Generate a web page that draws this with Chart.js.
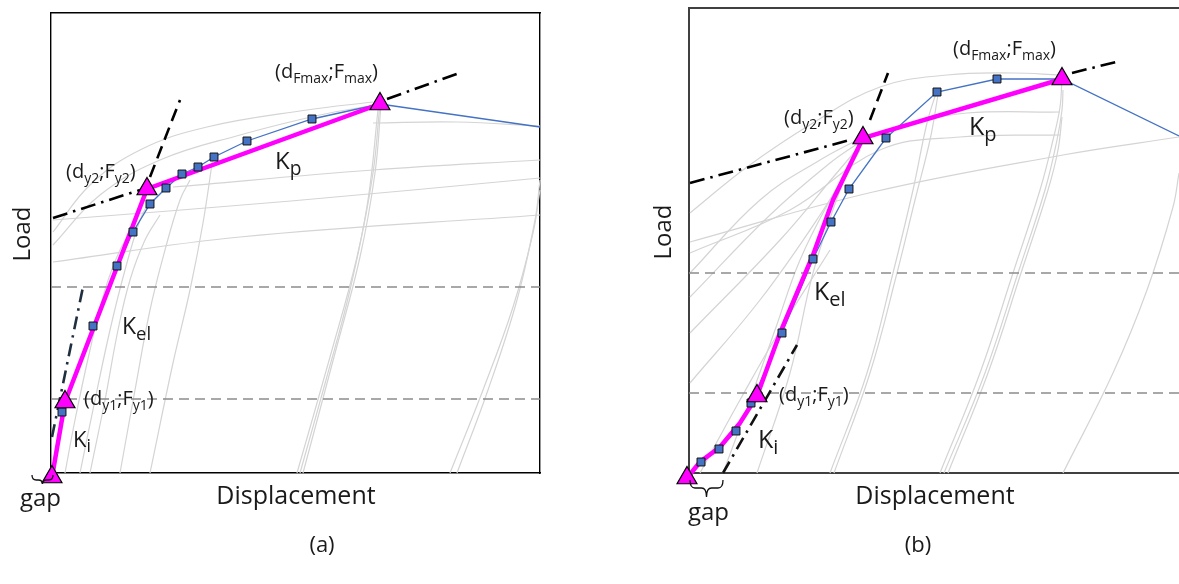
<!DOCTYPE html>
<html><head><meta charset="utf-8">
<script src="https://cdn.jsdelivr.net/npm/chart.js@4.4.1/dist/chart.umd.min.js"></script>
<style>
html,body{margin:0;padding:0;background:#fff;overflow:hidden;width:1179px;height:584px}
canvas{position:absolute;left:0;top:0}
</style></head><body>
<canvas id="ca" width="1179" height="584"></canvas>
<canvas id="cb" width="1179" height="584"></canvas>
<script>
// ================= Panel (a) data (arbitrary displacement / load units) =================
const aBilinear = [[1,-4],[14,71],[96,284],[329,369]];
const aTest = [[1,-3],[11,61],[42,147],[66,207],[82,241],[99,269],[115,285],[131,299],[147,306],[163,316],[196,332],[261,354],[329,369],[489,346]];
const aKpLeft = [[2,255],[89,283]];
const aKpRight = [[336,374],[411,401]];
const aKelTangent = [[99,296],[129,373]];
const aKiTangent = [[1,36],[32,186]];
const aLevels = [74,186];
const aLoops = [
  [[99,0],[122,110],[139,183],[152,250],[162,316]],
  [[29,0],[44,73],[59,143],[74,203],[89,253],[99,273]],
  [[69,0],[84,83],[99,163],[114,223],[129,273],[139,293]],
  [[14,0],[24,53],[39,123],[54,183],[69,223],[84,248]],
  [[39,0],[54,73],[67,143],[79,193],[94,233],[109,258]],
  [[246,0],[279,116],[306,216],[322,300],[329,370]],
  [[252,0],[283,116],[309,216],[324,300],[330,368]],
  [[249,0],[275,93],[299,183],[317,273],[327,363]],
  [[399,0],[432,83],[462,166],[482,240],[489,283]],
  [[406,0],[437,83],[466,173],[484,253],[489,293]],
  [[2,241],[39,288],[89,323],[156,346],[256,363],[322,371]],
  [[2,228],[49,278],[109,313],[189,338],[269,358],[324,368]],
  [[322,350],[406,351],[489,347]],
  [[122,286],[322,303],[489,313]],
  [[2,253],[240,272],[489,295]],
  [[2,211],[189,236],[489,258]]
];

// ================= Panel (b) data =================
const bBilinear = [[-2,-5],[11,11],[31,26],[51,50],[68,77],[91,140],[124,218],[144,273],[174,335],[373,394]];
const bKeyPoints = [[-2,-5],[68,77],[174,335],[373,394]];
const bTest = [[-2,-3],[12,11],[30,24],[47,42],[62,70],[93,140],[124,214],[142,251],[160,284],[197,335],[248,381],[308,394],[373,394],[490,337]];
const bKpLeft = [[1,290],[161,333]];
const bKpRight = [[383,400],[431,412]];
const bKelTangent = [[181,353],[199,400]];
const bKiTangent = [[34,0],[108,128]];
const bLevels = [80,200];
const bLoops = [
  [[141,0],[178,100],[204,200],[224,283],[238,350],[248,383]],
  [[145,0],[181,100],[208,200],[226,273],[241,333],[249,378]],
  [[251,0],[291,100],[324,200],[351,283],[364,333],[371,366],[373,395]],
  [[255,0],[296,100],[329,200],[356,283],[368,333],[373,363],[374,383]],
  [[259,0],[299,100],[332,200],[359,283],[369,323],[373,356]],
  [[374,0],[424,100],[458,183],[484,266],[490,300]],
  [[68,0],[101,100],[124,200],[151,283],[174,336]],
  [[34,0],[61,73],[86,143],[111,213],[141,273],[171,323]],
  [[11,0],[51,73],[91,143],[141,223]],
  [[1,260],[58,306],[124,350],[191,386],[258,398],[324,400],[371,398]],
  [[1,231],[184,281],[374,318],[490,336]],
  [[174,336],[224,350],[278,360],[371,361]],
  [[1,220],[101,263],[191,323],[271,336],[371,338]],
  [[1,200],[71,273],[131,313],[174,336]],
  [[1,176],[81,258],[141,310],[174,333]],
  [[1,140],[91,233],[146,298],[174,331]],
  [[1,90],[71,173],[131,258],[171,323]]
];

// ================= Text annotations =================
const aLabels = [
  {at:[224,395], size:20, sub:0.7, parts:[['(d'],['Fmax',1],[';F'],['max',1],[')']]},
  {at:[15,295], size:20, sub:0.7, parts:[['(d'],['y2',1],[';F'],['y2',1],[')']]},
  {at:[224,304], size:24, sub:0.8, parts:[['K'],['p',1]]},
  {at:[71,139], size:23, sub:0.8, parts:[['K'],['el',1]]},
  {at:[33,68], size:20, sub:0.7, parts:[['(d'],['y1',1],[';F'],['y1',1],[')']]},
  {at:[22,26], size:22, sub:0.8, parts:[['K'],['i',1]]},
  {at:[-31,-33], size:24, parts:[['gap']]},
  {at:[245,-31], size:25, align:'center', parts:[['Displacement']]},
  {at:[-28,239], size:24, align:'center', rotate:true, parts:[['Load']]},
  {at:[271,-79], size:22, align:'center', parts:[['(a)']]}
];
const bLabels = [
  {at:[264,418], size:20, sub:0.7, parts:[['(d'],['Fmax',1],[';F'],['max',1],[')']]},
  {at:[95,349], size:20, sub:0.7, parts:[['(d'],['y2',1],[';F'],['y2',1],[')']]},
  {at:[280,338], size:25, sub:0.8, parts:[['K'],['p',1]]},
  {at:[125,173], size:25, sub:0.8, parts:[['K'],['el',1]]},
  {at:[90,72], size:20, sub:0.7, parts:[['(d'],['y1',1],[';F'],['y1',1],[')']]},
  {at:[69,25], size:25, sub:0.8, parts:[['K'],['i',1]]},
  {at:[-1,-47], size:24, parts:[['gap']]},
  {at:[246,-31], size:25, align:'center', parts:[['Displacement']]},
  {at:[-25,241], size:24, align:'center', rotate:true, parts:[['Load']]},
  {at:[229,-79], size:22, align:'center', parts:[['(b)']]}
];
const aBrace = {x0:-19, x1:2, top:-2, mid:-7, tip:-11};
const bBrace = {x0:1, x1:34, top:-7, mid:-15, tip:-24};

// ================= Build charts =================
const FONT = '"Open Sans", "DejaVu Sans", sans-serif';
const pts = arr => arr.map(([x, y]) => ({x, y}));

function annotationPlugin(labels, brace) {
  return {
    id: 'annot',
    afterDatasetsDraw(chart) {
      const ctx = chart.ctx, sx = chart.scales.x, sy = chart.scales.y;
      ctx.save();
      ctx.fillStyle = '#1a1a1a';
      for (const L of labels) {
        const px = sx.getPixelForValue(L.at[0]), py = sy.getPixelForValue(L.at[1]);
        const subSize = L.size * (L.sub || 0.7);
        const fontFor = s => `${s ? subSize : L.size}px ${FONT}`;
        let w = 0;
        for (const [t, s] of L.parts) { ctx.font = fontFor(s); w += ctx.measureText(t).width; }
        ctx.save();
        ctx.translate(px, py);
        if (L.rotate) { ctx.rotate(-Math.PI / 2); ctx.textBaseline = 'middle'; }
        else ctx.textBaseline = 'alphabetic';
        ctx.textAlign = 'left';
        let cx = L.align === 'center' ? -w / 2 : 0;
        for (const [t, s] of L.parts) {
          ctx.font = fontFor(s);
          ctx.fillText(t, cx, s ? L.size * 0.24 : 0);
          cx += ctx.measureText(t).width;
        }
        ctx.restore();
      }
      // curly brace under "gap"
      const X0 = sx.getPixelForValue(brace.x0), X1 = sx.getPixelForValue(brace.x1);
      const XM = (X0 + X1) / 2;
      const T = sy.getPixelForValue(brace.top), M = sy.getPixelForValue(brace.mid), P = sy.getPixelForValue(brace.tip);
      const r = Math.min(5, (X1 - X0) / 5);
      ctx.strokeStyle = '#111'; ctx.lineWidth = 1.3;
      ctx.beginPath();
      ctx.moveTo(X0, T);
      ctx.quadraticCurveTo(X0, M, X0 + r, M);
      ctx.lineTo(XM - r, M);
      ctx.quadraticCurveTo(XM, M, XM, P);
      ctx.moveTo(XM, P);
      ctx.quadraticCurveTo(XM, M, XM + r, M);
      ctx.lineTo(X1 - r, M);
      ctx.quadraticCurveTo(X1, M, X1, T);
      ctx.stroke();
      ctx.restore();
    }
  };
}

function lineDs(data, color, width, dash, order) {
  return {data: pts(data), showLine: true, borderColor: color, borderWidth: width, borderDash: dash || [],
          pointRadius: 0, order, clip: false, tension: 0};
}

function makePanel(id, P) {
  const ds = [];
  ds.push({data: pts(P.keyPoints), showLine: false, pointStyle: 'triangle', pointRadius: 11.5,
           pointBackgroundColor: '#ff00ff', pointBorderColor: '#000', pointBorderWidth: 1.2, order: 0, clip: false});
  ds.push({data: pts(P.test.slice(1, -2)), showLine: false, pointStyle: 'rect', pointRadius: 5.6,
           pointBackgroundColor: '#4472c4', pointBorderColor: '#111', pointBorderWidth: 1, order: 1, clip: false});
  ds.push(lineDs(P.bilinear, '#ff00ff', 4.5, null, 2));
  ds.push(lineDs(P.test, '#4472c4', 1.3, null, 3));
  ds.push(lineDs(P.kpLeft, '#000', 2.6, [15, 6, 2.5, 6], 4));
  ds.push(lineDs(P.kpRight, '#000', 2.6, [15, 6, 2.5, 6], 4));
  ds.push(lineDs(P.kelTangent, '#000', 2.6, [13, 7], 4));
  ds.push(lineDs(P.kiTangent, P.kiColor, 2.6, [13, 6, 2.5, 6], 4));
  for (const lv of P.levels) ds.push(lineDs([[P.xMin, lv], [P.xMax, lv]], '#8c8c8c', 1.4, [10, 6], 5));
  for (const loop of P.loops) {
    const d = lineDs(loop, '#d4d4d4', 1.2, null, 6);
    d.tension = 0.4;
    ds.push(d);
  }
  const edge = (pos) => ({
    type: 'linear', position: pos, display: true, min: 0, max: 1,
    grid: {display: false, drawTicks: false}, ticks: {display: false},
    border: {display: true, color: P.frameColor, width: P.frameWidth}
  });
  const scales = {
    x: {type: 'linear', position: 'bottom', min: P.xMin, max: P.xMax,
        grid: {display: false, drawTicks: false}, ticks: {display: false},
        border: {display: true, color: P.frameColor, width: P.frameWidth}},
    y: {type: 'linear', position: 'left', min: P.yMin, max: P.yMax,
        grid: {display: false, drawTicks: false}, ticks: {display: false},
        border: {display: true, color: P.frameColor, width: P.frameWidth}},
    xTop: edge('top')
  };
  if (P.rightFrame) scales.yRight = edge('right');
  return new Chart(document.getElementById(id), {
    type: 'scatter',
    data: {datasets: ds},
    options: {
      responsive: false, animation: false, events: [], devicePixelRatio: 1,
      layout: {padding: P.padding, autoPadding: false},
      plugins: {legend: {display: false}, tooltip: {enabled: false}},
      scales
    },
    plugins: [annotationPlugin(P.labels, P.brace)]
  });
}

makePanel('ca', {
  keyPoints: aBilinear, bilinear: aBilinear, test: aTest, kpLeft: aKpLeft, kpRight: aKpRight,
  kelTangent: aKelTangent, kiTangent: aKiTangent, kiColor: '#1f2f3f', levels: aLevels, loops: aLoops,
  labels: aLabels, brace: aBrace, xMin: 0, xMax: 489, yMin: 0, yMax: 460,
  padding: {left: 51, top: 13, right: 639, bottom: 111}, frameColor: '#000', frameWidth: 1.4, rightFrame: true
});
makePanel('cb', {
  keyPoints: bKeyPoints, bilinear: bBilinear, test: bTest, kpLeft: bKpLeft, kpRight: bKpRight,
  kelTangent: bKelTangent, kiTangent: bKiTangent, kiColor: '#111', levels: bLevels, loops: bLoops,
  labels: bLabels, brace: bBrace, xMin: 0, xMax: 490, yMin: 0, yMax: 465,
  padding: {left: 689, top: 8, right: 0, bottom: 111}, frameColor: '#404040', frameWidth: 2, rightFrame: false
});
</script>
</body></html>
